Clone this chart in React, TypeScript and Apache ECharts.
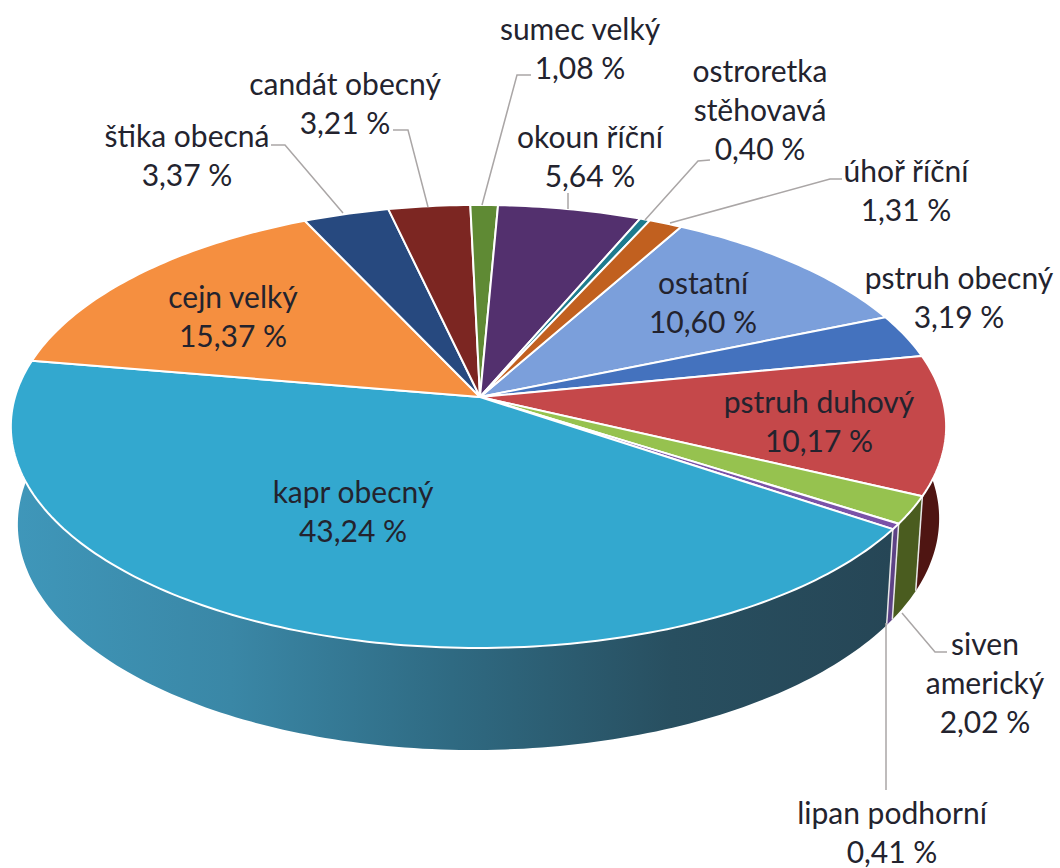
import React, { useEffect, useRef } from "react";
import * as echarts from "echarts";

const names = ["ostatní", "pstruh obecný", "pstruh duhový", "siven\namerický", "lipan podhorní", "kapr obecný", "cejn velký", "štika obecná", "candát obecný", "sumec velký", "okoun říční", "ostroretka\nstěhovavá", "úhoř říční"];
const values = [10.6, 3.19, 10.17, 2.02, 0.41, 43.24, 15.37, 3.37, 3.21, 1.08, 5.64, 0.4, 1.31];
const topColors = ["#7b9fdb", "#4472be", "#c5484a", "#96c24f", "#7a52a8", "#33a8cf", "#f58f40", "#27497f", "#7c2622", "#5f8a34", "#53306e", "#1d7b8e", "#c1601f"];
const sideColors = ["#46608a", "#2a4778", "#4f1512", "#4a5c1f", "#5d4286", "#2f6c84", "#a85e24", "#172c50", "#4a1512", "#394f1c", "#321c44", "#114a56", "#753a12"];
const kaprSideStops = ["#3f97ba", "#3a87a6", "#2f6a82", "#284f60", "#264656"];
const labelCenters = [[703, 301], [959, 296], [819, 420], [985, 682], [892, 831], [353, 510], [233, 315], [187, 154], [345, 102], [580, 47], [590, 155], [760, 109], [906, 189]];
const leaderLines = [
  [[531, 75], [517, 75], [482, 205]],
  [[393, 130], [408, 130], [428, 207]],
  [[271, 145], [285, 145], [343, 213]],
  [[568, 193], [568, 209]],
  [[710, 160], [698, 161], [645, 220]],
  [[842, 179], [830, 179], [670, 223]],
  [[947, 652], [935, 652], [902, 613]],
  [[886, 623], [886, 790]],
];

const CX = 480, CY = 397, A = 463.5, B = 217.6, K = 0.133, START = 29.2, RIM_SHIFT = -1.5;
const total = values.reduce((a, b) => a + b, 0);
const cumulative = values.map((_, i) => values.slice(0, i).reduce((a, b) => a + b, 0));

function project(deg: number, bottom: boolean): number[] {
  const r = (deg * Math.PI) / 180;
  const u = Math.sin(r), v = Math.cos(r);
  const w = 1 + K * v;
  const x = (A * u) / w, y = (-B * v) / w;
  return bottom
    ? [CX + RIM_SHIFT + x * 0.985, CY + y + 94 - 8 * v - 3 * u]
    : [CX + RIM_SHIFT + x, CY + y];
}
function arc(a0: number, a1: number, bottom: boolean): number[][] {
  const n = Math.max(2, Math.ceil(Math.abs(a1 - a0)));
  const pts: number[][] = [];
  for (let i = 0; i <= n; i++) pts.push(project(a0 + ((a1 - a0) * i) / n, bottom));
  return pts;
}
const angles = (i: number, value: number) => {
  const a0 = START + (cumulative[i] / total) * 360;
  return [a0, a0 + (value / total) * 360];
};

export default function App() {
  const ref = useRef<HTMLDivElement>(null);
  useEffect(() => {
    const chart = echarts.init(ref.current!, undefined, { renderer: "svg" });
    const data = names.map((n, i) => ({ name: n, value: values[i] }));
    chart.setOption({
      animation: false,
      backgroundColor: "#ffffff",
      series: [
        {
          type: "custom",
          coordinateSystem: "none",
          z: 1,
          data,
          renderItem: (params: any, api: any) => {
            const i = params.dataIndex;
            const [a0, a1] = angles(i, api.value(0));
            const top = arc(a0, a1, false);
            const bot = arc(a0, a1, true).reverse();
            const fill = names[i] === "kapr obecný"
              ? new echarts.graphic.LinearGradient(0, 0, 1, 0, kaprSideStops.map((color, k) => ({ offset: k / (kaprSideStops.length - 1), color })))
              : sideColors[i];
            return {
              type: "group",
              children: [
                { type: "polygon", shape: { points: top.concat(bot) }, style: { fill } },
                { type: "polyline", shape: { points: [project(a0, false), project(a0, true)] }, style: { stroke: "#e8e8e8", lineWidth: 1.5, fill: "none" } },
              ],
            };
          },
        },
        {
          type: "custom",
          coordinateSystem: "none",
          z: 2,
          data,
          renderItem: (params: any, api: any) => {
            const i = params.dataIndex;
            const [a0, a1] = angles(i, api.value(0));
            return {
              type: "polygon",
              shape: { points: [[CX, CY], ...arc(a0, a1, false)] },
              style: { fill: topColors[i], stroke: "#ffffff", lineWidth: 2, lineJoin: "round" },
            };
          },
        },
      ],
      graphic: {
        elements: [
          ...leaderLines.map((points) => ({
            type: "polyline",
            z: 5,
            shape: { points },
            style: { stroke: "#aaa6a6", lineWidth: 1.5, fill: "none" },
          })),
          ...names.map((n, i) => ({
            type: "text",
            z: 10,
            x: labelCenters[i][0],
            y: labelCenters[i][1],
            style: {
              text: `${n}\n${values[i].toFixed(2).replace(".", ",")} %`,
              font: "30px Lato, sans-serif",
              lineHeight: 39,
              fill: "#23232e",
              align: "center",
              verticalAlign: "middle",
            },
          })),
        ],
      },
    });
    return () => chart.dispose();
  }, []);
  return <div ref={ref} style={{ position: "fixed", left: 0, top: 0, width: 1060, height: 868 }} />;
}
